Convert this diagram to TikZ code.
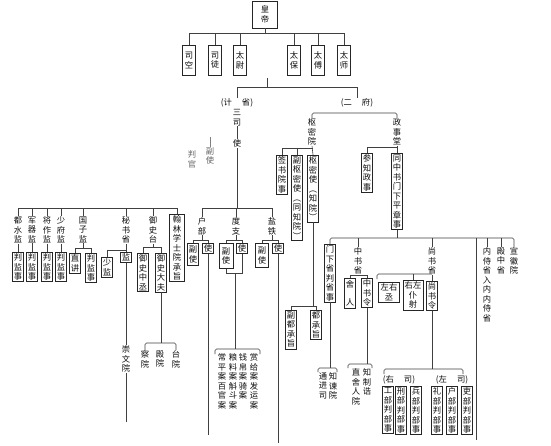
\documentclass[tikz,border=0pt]{standalone}
\usepackage{fontspec}
\newfontfamily\cjk{Noto Sans CJK SC}
\tikzset{
  vt/.style={align=center, font=\cjk\fontsize{8.3}{9.5}\selectfont, inner sep=0.4pt, text=black!95, anchor=north},
  bx/.style={vt, draw=black!85, line width=0.65pt, inner sep=1.3pt},
  ln/.style={draw=black!75, line width=0.6pt},
  br/.style={ln, rounded corners=1.5pt},
  lt/.style={vt, text=black!60},
}
\begin{document}
\begin{tikzpicture}[x=1pt,y=-1pt]
\useasboundingbox[fill=white] (0,0) rectangle (551,445);
% ---------- top ----------
\node[bx, minimum width=25pt, minimum height=27pt] (hd) at (265,0.5) {皇\\帝};
\node[bx, minimum width=13pt, minimum height=30pt] (sk) at (189,45) {司\\空};
\node[bx, minimum width=13pt, minimum height=30pt] (st) at (215,45) {司\\徒};
\node[bx, minimum width=13pt, minimum height=30pt] (tw) at (240,45) {太\\尉};
\node[bx, minimum width=13pt, minimum height=30pt] (tb) at (294,45) {太\\保};
\node[bx, minimum width=13pt, minimum height=30pt] (tf) at (318,45) {太\\傅};
\node[bx, minimum width=13pt, minimum height=30pt] (ts) at (344,45) {太\\师};
\draw[ln] (hd.south) -- (hd.south |- 0,33);
\draw[ln] (sk.north) |- (ts.north |- 0,33) -- (ts.north);
\foreach \n in {st,tw,tb,tf} \draw[ln] (\n.north) -- (\n.north |- 0,33);
\coordinate (m1) at (267,78);
\draw[ln] (m1) -- (m1 |- 0,87);
\node[vt] (js) at (237,98) {(计\hspace{10pt}省)};
\node[vt] (ef) at (357,98) {(二\hspace{10pt}府)};
\draw[ln] (js.north) |- (ef.north |- 0,87) -- (ef.north);
% ---------- san si ----------
\node[vt] (ss) at (237,109) {三\\司};
\node[vt] (sshi) at (237,139) {使};
\draw[ln] (ss.south) -- (sshi.north);
\draw[ln] (sshi.south) -- (sshi.south |- 0,208);
\coordinate (fs0t) at (210,137);
\node[lt] (fs0) at (210,147) {副\\使};
\draw[ln, draw=black!50] (fs0t) -- (fs0.north);
\node[lt] (pg) at (192,150) {判\\官};
\node[vt] (hubu) at (202,217) {户\\部};
\node[vt] (duzhi) at (236,217) {度\\支};
\node[vt] (yantie) at (272,217) {盐\\铁};
\draw[ln] (hubu.north) |- (yantie.north |- 0,208) -- (yantie.north);
\draw[ln] (duzhi.north) -- (duzhi.north |- 0,208);
\node[bx, minimum height=22pt] (hbf) at (193,243) {副\\使};
\node[bx] (hbs) at (208,243) {使};
\draw[ln] (hubu.south) -- (hubu.south |- 0,240);
\draw[ln] (hbf.north) |- (hbs.north |- 0,240) -- (hbs.north);
\coordinate (hbe) at (208,435);
\draw[ln] (hbs.south) -- (hbe);
\node[bx, minimum width=14pt, minimum height=25pt] (dzf) at (226,243) {副\\使};
\node[bx] (dzs) at (242,243) {使};
\draw[ln] (duzhi.south) -- (duzhi.south |- 0,240);
\draw[ln] (dzf.north) |- (dzs.north |- 0,240) -- (dzs.north);
\draw[ln] (dzf.south) |- (dzs.south |- 0,273) -- (dzs.south);
\coordinate (dzj) at (235,273);
\draw[ln] (dzj) -- (dzj |- 0,349);
\coordinate (dzbl) at (215,354);
\coordinate (dzbr) at (260,354);
\draw[br] (dzbl) |- (dzbr |- 0,349) -- (dzbr);
\node[vt] (c1) at (222,353) {常\\平\\案\\百\\官\\案};
\node[vt] (c2) at (233,353) {粮\\料\\案\\斛\\斗\\案};
\node[vt] (c3) at (243,353) {钱\\帛\\案\\骑\\案};
\node[vt] (c4) at (254,353) {赏\\给\\案\\发\\运\\案};
\node[bx, minimum width=13pt, minimum height=24pt] (ytf) at (262,243) {副\\使};
\node[bx] (yts) at (278,243) {使};
\draw[ln] (yantie.south) -- (yantie.south |- 0,240);
\draw[ln] (ytf.north) |- (yts.north |- 0,240) -- (yts.north);
\coordinate (yte) at (278,443);
\draw[ln] (yts.south) -- (yte);
% ---------- left group ----------
\node[vt] (dsj) at (18,216) {都\\水\\监};
\node[vt] (jqj) at (32,216) {军\\器\\监};
\node[vt] (jzj) at (47,216) {将\\作\\监};
\node[vt] (sfj) at (61,216) {少\\府\\监};
\node[vt] (gzj) at (83,216) {国\\子\\监};
\node[vt] (msj) at (126,216) {秘\\书\\省};
\node[vt] (yst) at (153,216) {御\\史\\台};
\node[bx, minimum width=15pt] (hl) at (177,214) {翰\\林\\学\\士\\院\\承\\旨};
\draw[ln] (dsj.north) |- (hl.north |- 0,208) -- (hl.north);
\foreach \n in {jqj,jzj,sfj,gzj,msj,yst} \draw[ln] (\n.north) -- (\n.north |- 0,208);
\node[bx] (p1) at (18,252) {判\\监\\事};
\node[bx] (p2) at (32,252) {判\\监\\事};
\node[bx] (p3) at (47,252) {判\\监\\事};
\node[bx] (p4) at (61,252) {判\\监\\事};
\draw[ln] (dsj.south) -- (p1.north);
\draw[ln] (jqj.south) -- (p2.north);
\draw[ln] (jzj.south) -- (p3.north);
\draw[ln] (sfj.south) -- (p4.north);
\node[bx] (zj) at (75,253) {直\\讲};
\node[bx] (gp) at (91,253) {判\\监\\事};
\draw[ln] (gzj.south) -- (gzj.south |- 0,248);
\draw[ln] (zj.north) |- (gp.north |- 0,248) -- (gp.north);
\node[bx] (sj) at (107,257) {少\\监};
\node[bx] (jian) at (126,252) {监};
\draw[ln] (msj.south) -- (jian.north);
\draw[ln] (sj.north) |- (jian.north |- 0,250);
\node[vt] (cwy) at (126,345) {崇\\文\\院};
\draw[ln] (jian.south) -- (cwy.north);
\coordinate (cwe) at (126,422);
\draw[ln] (cwy.south) -- (cwe);
\node[bx] (yzc) at (143,253) {御\\史\\中\\丞};
\node[bx] (ydf) at (161,253) {御\\史\\大\\夫};
\draw[ln] (yst.south) -- (yst.south |- 0,247);
\draw[ln] (yzc.north) |- (ydf.north |- 0,247) -- (ydf.north);
\draw[ln] (ydf.south) -- (ydf.south |- 0,343);
\node[vt] (cy) at (145,350) {察\\院};
\node[vt] (dy) at (160,350) {殿\\院};
\node[vt] (ty) at (176,350) {台\\院};
\draw[br] (cy.north) |- (ty.north |- 0,343) -- (ty.north);
% ---------- shumiyuan ----------
\node[vt] (smy) at (312,118) {枢\\密\\院};
\node[vt] (zst) at (397,118) {政\\事\\堂};
\draw[br] (smy.north) |- (zst.north |- 0,113) -- (zst.north);
\node[bx] (sq) at (282,155) {签\\书\\院\\事};
\node[bx] (fsm) at (297,155) {副\\枢\\密\\使\\︵\\同\\知\\院\\︶};
\node[bx] (smsh) at (313,155) {枢\\密\\使\\︵\\知\\院\\︶};
\draw[ln] (smy.south) -- (smsh.north);
\draw[ln] (sq.north) |- (smsh.north |- 0,148);
\draw[ln] (fsm.north) -- (fsm.north |- 0,148);
\draw[ln] (smsh.south) -- (smsh.south |- 0,306);
\node[bx] (fdc) at (291,310) {副\\都\\承\\旨};
\node[bx] (dcz) at (316,310) {都\\承\\旨};
\draw[ln] (fdc.north) |- (dcz.north |- 0,306) -- (dcz.north);
% ---------- zhengshitang ----------
\node[bx] (czs) at (367,153) {参\\知\\政\\事};
\node[bx] (tzs) at (397,153) {同\\中\\书\\门\\下\\平\\章\\事};
\draw[ln] (zst.south) -- (tzs.north);
\draw[ln] (czs.north) |- (tzs.north |- 0,147);
\draw[ln] (tzs.south) -- (tzs.south |- 0,238);
\node[bx] (mx) at (330,244) {门\\下\\省\\判\\省\\事};
\node[vt] (zss) at (358,247) {中\\书\\省};
\node[vt] (sss) at (432,247) {尚\\书\\省};
\node[vt] (nsh) at (487,247) {内\\侍\\省\\入\\内\\内\\侍\\省};
\node[vt] (dzsh) at (501,247) {殿\\中\\省};
\node[vt] (xhy) at (514,247) {宣\\徽\\院};
\draw[br] (mx.north) |- (xhy.north |- 0,238) -- (xhy.north);
\foreach \n in {zss,sss,nsh,dzsh} \draw[ln] (\n.north) -- (\n.north |- 0,238);
\coordinate (lle) at (476,440);
\draw[ln] (lle |- 0,238) -- (lle);
% menxia
\draw[ln] (mx.south) -- (mx.south |- 0,368);
\coordinate (mxl) at (318,372);
\coordinate (mxr) at (337,372);
\draw[br] (mxl) |- (mxr |- 0,368) -- (mxr);
\node[vt] (tjs) at (323,372) {通\\进\\司};
\node[vt] (zjy) at (333,372) {知\\谏\\院};
% zhongshu
\node[bx, minimum height=30pt] (sr) at (350,278) {舍\\[9pt]人};
\node[bx] (zsl) at (367,278) {中\\书\\令};
\draw[ln] (zss.south) -- (zss.south |- 0,275);
\draw[ln] (sr.north) |- (zsl.north |- 0,275) -- (zsl.north);
\draw[ln] (zsl.south) -- (zsl.south |- 0,364);
\coordinate (zsll) at (348,368);
\coordinate (zslr) at (372,368);
\draw[br] (zsll) |- (zslr |- 0,364) -- (zslr);
\node[vt] (zsry) at (356,368) {直\\舍\\人\\院};
\node[vt] (zzg) at (367,368) {知\\制\\诰};
% shangshu
\node[bx, minimum width=21pt, minimum height=20pt] (zyc) at (389,282) {左右\\丞};
\node[bx, minimum width=20pt, minimum height=30pt] (yzps) at (413,280) {右左\\仆\\射};
\node[bx] (ssl) at (432,281) {尚\\书\\令};
\draw[ln] (sss.south) -- (ssl.north);
\coordinate (sbl) at (377,279);
\draw[br] (sbl) |- (ssl.north |- 0,274);
\draw[ln] (yzps.north) -- (yzps.north |- 0,274);
\draw[ln] (ssl.south) -- (ssl.south |- 0,369);
\coordinate (sbl2) at (384,374);
\coordinate (sbr2) at (463,374);
\draw[br] (sbl2) |- (sbr2 |- 0,369) -- (sbr2);
\node[vt] (ysi) at (399,375) {(右\hspace{10pt}司)};
\node[vt] (zsi) at (452,375) {(左\hspace{10pt}司)};
\node[bx] (gb) at (388,386) {工\\部\\判\\部\\事};
\node[bx] (xb) at (401,386) {刑\\部\\判\\部\\事};
\node[bx] (bb) at (416,386) {兵\\部\\判\\部\\事};
\node[bx] (lb) at (437,386) {礼\\部\\判\\部\\事};
\node[bx] (hb) at (452,386) {户\\部\\判\\部\\事};
\node[bx] (lib) at (467,386) {吏\\部\\判\\部\\事};
\end{tikzpicture}
\end{document}
